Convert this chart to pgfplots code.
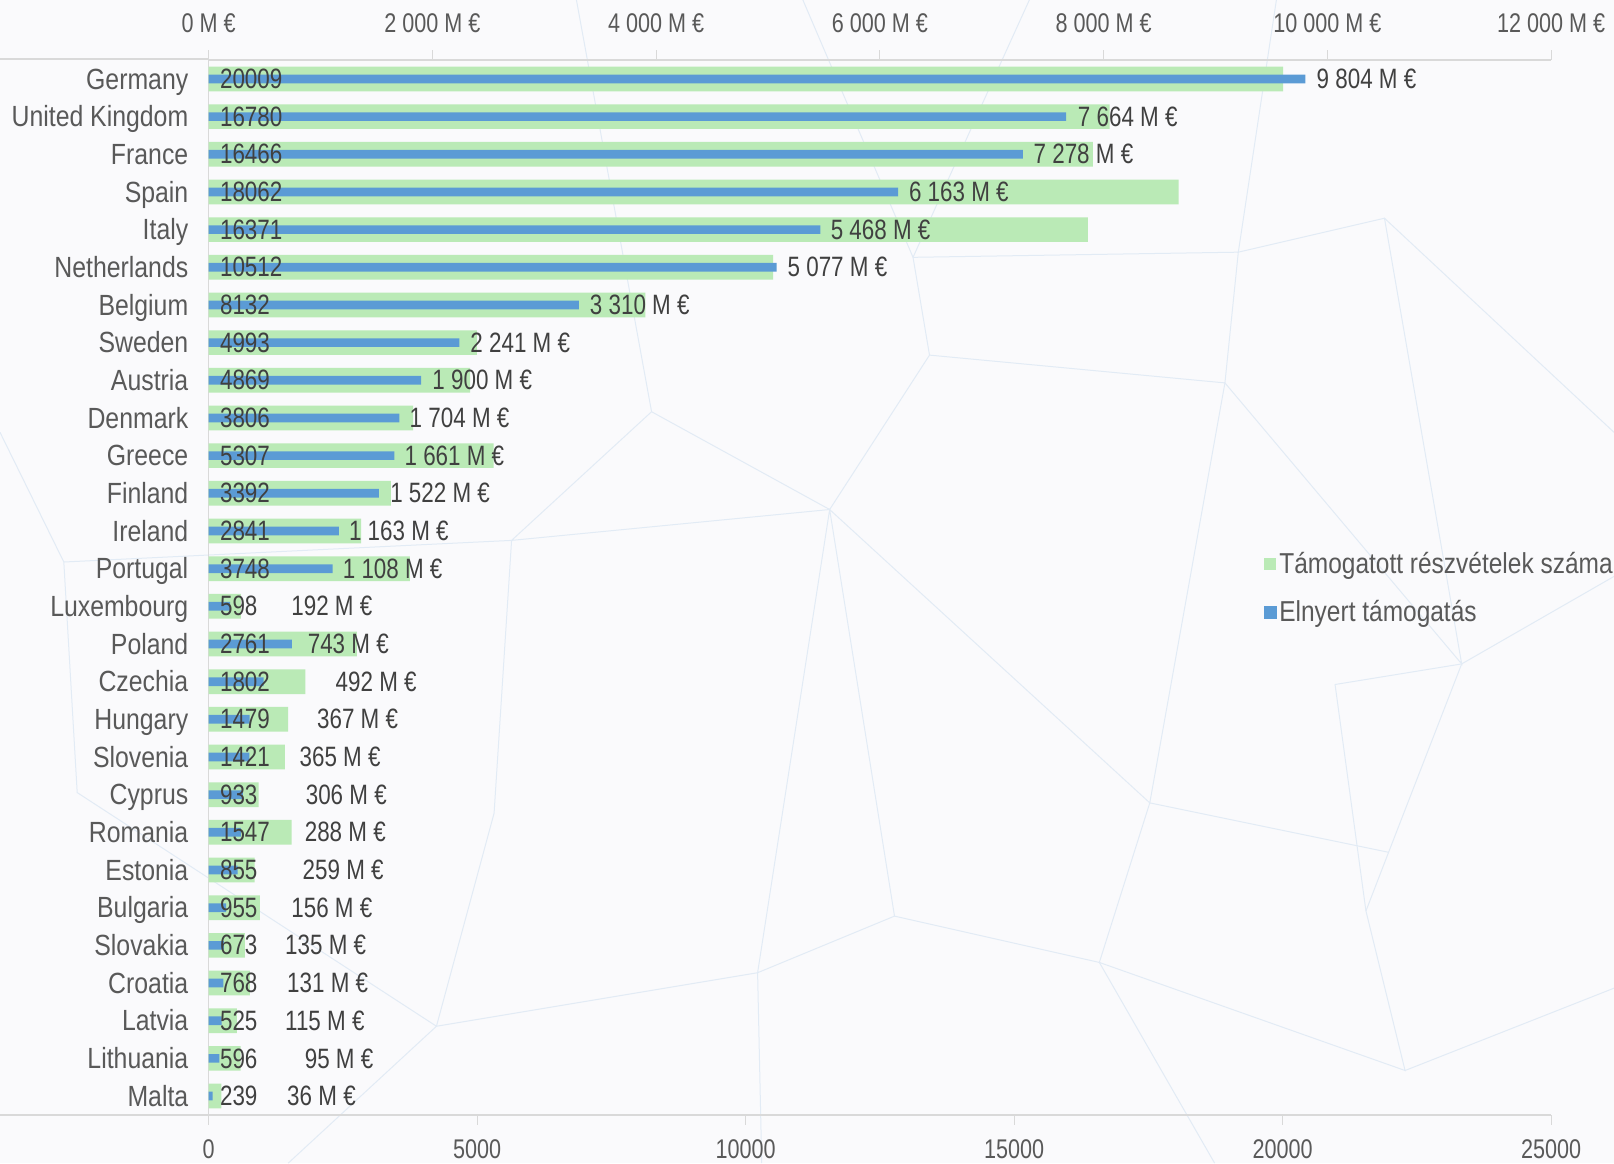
\documentclass[border=0pt]{standalone}
\usepackage{fontspec}
\setmainfont{Liberation Sans}[FakeStretch=0.8]
\newfontfamily\catfont{Liberation Sans}[FakeStretch=0.85]
\usepackage{pgfplots}
\pgfplotsset{compat=1.18}
\usepackage{pgfplotstable}

\definecolor{bggray}{HTML}{FAFAFC}
\definecolor{meshcol}{HTML}{E2EBF5}
\definecolor{barGreen}{HTML}{BAEAB6}
\definecolor{barBlue}{HTML}{5B9BD5}
\definecolor{axgray}{HTML}{D9D9D9}
\definecolor{txtgray}{HTML}{595959}
\definecolor{lblgray}{HTML}{404040}

\pgfplotstableread[col sep=comma]{
idx,cat,green,blue,labx
0,Germany,20009,9804,9901
1,United Kingdom,16780,7664,7767
2,France,16466,7278,7371
3,Spain,18062,6163,6257
4,Italy,16371,5468,5558
5,Netherlands,10512,5077,5172
6,Belgium,8132,3310,3405
7,Sweden,4993,2241,2337
8,Austria,4869,1900,1997
9,Denmark,3806,1704,1794
10,Greece,5307,1661,1748
11,Finland,3392,1522,1620
12,Ireland,2841,1163,1251
13,Portugal,3748,1108,1196
14,Luxembourg,598,192,736
15,Poland,2761,743,883
16,Czechia,1802,492,1132
17,Hungary,1479,367,966
18,Slovenia,1421,365,810
19,Cyprus,933,306,865
20,Romania,1547,288,856
21,Estonia,855,259,837
22,Bulgaria,955,156,736
23,Slovakia,673,135,681
24,Croatia,768,131,699
25,Latvia,525,115,681
26,Lithuania,596,95,856
27,Malta,239,36,699
}\data

\begin{document}
\begin{tikzpicture}[x=0.51465pt,y=-0.51465pt,yshift=581.5pt]
\useasboundingbox (0,0) rectangle (1568,1130);
\fill[bggray] (0,0) rectangle (1568,1130);
% faint decorative mesh of the background
\begin{scope}[meshcol, line width=0.5pt]
\draw (806,495) -- (903,345) -- (1190,372) -- (1203,245) -- (887,250) -- (903,345);
\draw (806,495) -- (633,400) -- (497,525) -- (806,495) -- (736,945) -- (869,890) -- (806,495) -- (1117,780) -- (1190,372);
\draw (1203,245) -- (1345,212) -- (1420,645) -- (1190,372);
\draw (1117,780) -- (1068,935) -- (869,890);
\draw (1117,780) -- (1349,828) -- (1420,645);
\draw (1068,935) -- (1365,1040) -- (1327,885) -- (1349,828);
\draw (736,945) -- (424,997) -- (480,790) -- (497,525);
\draw (424,997) -- (75,770) -- (62,546) -- (0,420);
\draw (62,546) -- (497,525);
\draw (633,400) -- (560,0);
\draw (887,250) -- (780,0);
\draw (1345,212) -- (1568,420);
\draw (1420,645) -- (1568,560);
\draw (1365,1040) -- (1568,960);
\draw (1068,935) -- (1180,1130);
\draw (736,945) -- (740,1130);
\draw (424,997) -- (280,1130);
\draw (1327,885) -- (1297,665) -- (1420,645);
\draw (975,55) -- (1000,0);
\draw (975,55) -- (887,250);
\draw (1203,245) -- (1240,0);
\end{scope}
% horizontal axis lines extended to the left edge
\draw[axgray, line width=1pt] (0,57.5) -- (203,57.5);
\draw[axgray, line width=1pt] (0,1083) -- (203,1083);
\end{tikzpicture}%
\hspace{-807pt}%
\begin{tikzpicture}
\useasboundingbox (0,0) rectangle (807pt,581.5pt);
\begin{axis}[
  at={(104.35pt,24.15pt)}, anchor=south west,
  scale only axis, width=671.2pt, height=527.35pt,
  xmin=0, xmax=25000, ymin=-0.5, ymax=27.5, y dir=reverse,
  axis x line*=bottom, axis y line*=left,
  x axis line style={axgray, line width=1pt, -},
  y axis line style={axgray, line width=0.6pt, -},
  xtick={0,5000,...,25000}, scaled x ticks=false,
  tick align=outside, major tick length=5pt,
  xtick style={axgray, line width=0.6pt},
  xticklabel style={font=\fontsize{13.5}{15}\selectfont, text=txtgray, anchor=center, yshift=-12pt},
  /pgf/number format/assume math mode=true,
  /pgf/number format/1000 sep={},
  ytick={0,...,27}, yticklabels from table={\data}{cat},
  ytick style={draw=none},
  yticklabel style={font=\catfont\fontsize{14.6}{16}\selectfont, text=txtgray, anchor=east, inner sep=0pt, xshift=-5pt, text height=10.3pt, text depth=0pt},
  clip=false,
  legend cell align=left,
  legend style={at={(0.7855,0.4995)}, anchor=west, draw=none, fill=none,
    font=\catfont\fontsize{14.4}{16}\selectfont, text=txtgray, row sep=9pt, inner sep=0pt,
    nodes={inner sep=1.5pt}},
]
\addplot[xbar, bar width=12.35pt, bar shift=0pt, fill=barGreen, draw=none,
  legend image code/.code={\fill[barGreen] (0pt,-3pt) rectangle (6pt,3pt);}]
  table[x=green, y=idx]{\data};
\addlegendentry{Támogatott részvételek száma}
\addlegendimage{legend image code/.code={\fill[barBlue] (0pt,-3pt) rectangle (6pt,3pt);}}
\addlegendentry{Elnyert támogatás}
\end{axis}
\begin{axis}[
  at={(104.35pt,24.15pt)}, anchor=south west,
  scale only axis, width=671.2pt, height=527.35pt,
  xmin=0, xmax=12000, ymin=-0.5, ymax=27.5, y dir=reverse,
  axis x line*=top, axis y line=none,
  x axis line style={axgray, line width=1pt, -},
  xtick={0,2000,...,12000}, scaled x ticks=false,
  tick align=outside, major tick length=5pt,
  xtick style={axgray, line width=0.6pt},
  xticklabel={\pgfmathprintnumber[fixed, precision=0, 1000 sep={\ }]{\tick}\ M\ €},
  xticklabel style={font=\fontsize{13.5}{15}\selectfont, text=txtgray, anchor=center, yshift=13.7pt},
  /pgf/number format/assume math mode=true,
  ytick=\empty,
  clip=false,
]
\addplot[xbar, bar width=4.35pt, bar shift=0pt, fill=barBlue, draw=none]
  table[x=blue, y=idx]{\data};
% labels of the green series (participations), at the base of the bars
\addplot[draw=none, nodes near coords, point meta=explicit symbolic,
  nodes near coords style={anchor=west, xshift=5.5pt, inner sep=0pt, text=lblgray, font=\fontsize{14}{16}\selectfont}]
  table[x expr=0, y=idx, meta=green]{\data};
% labels of the blue series (grants)
\addplot[draw=none, nodes near coords={\pgfmathprintnumber[fixed, precision=0, 1000 sep={\ }]{\pgfplotspointmeta}\ M\ €},
  point meta=\thisrow{blue},
  nodes near coords style={anchor=west, inner sep=0pt, text=lblgray, font=\fontsize{14}{16}\selectfont}]
  table[x=labx, y=idx]{\data};
\end{axis}
\end{tikzpicture}
\end{document}
